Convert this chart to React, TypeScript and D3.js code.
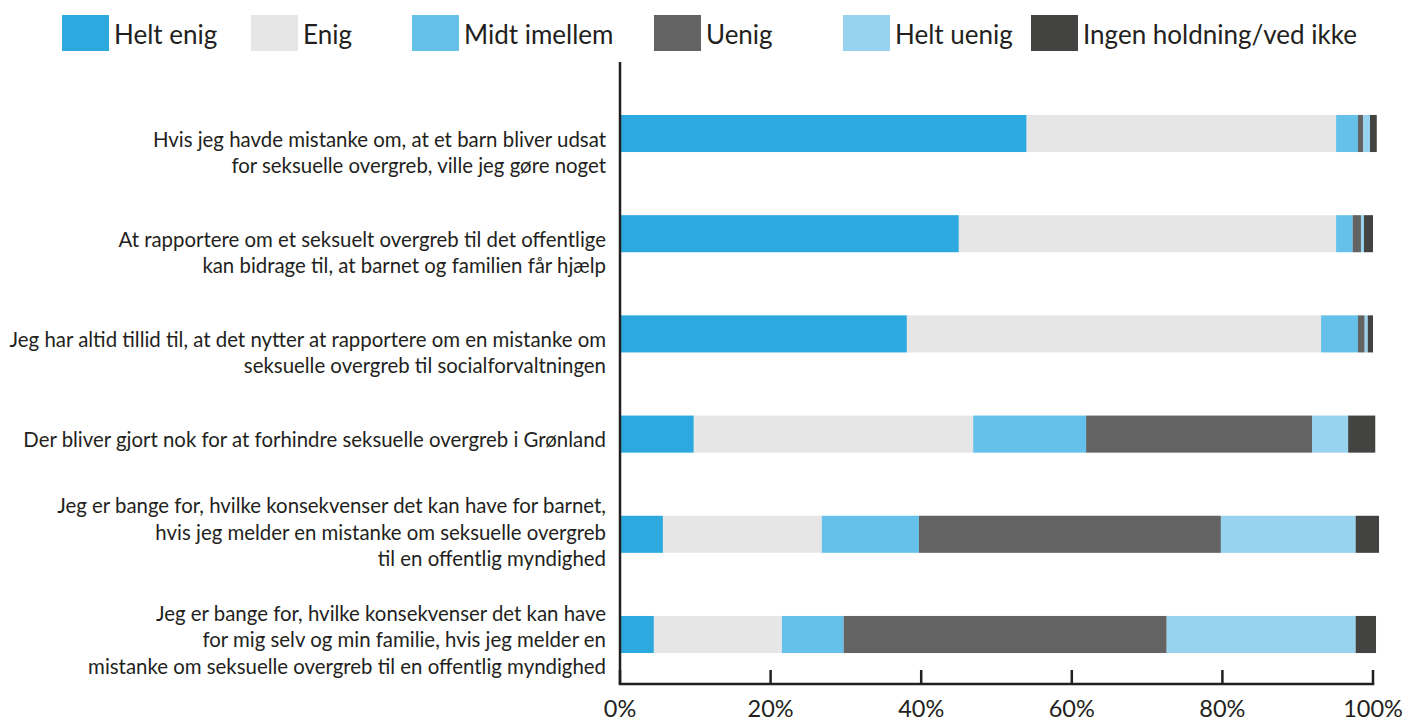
import * as d3 from 'd3';

// survey statements (line breaks as in the report)
const categories = [
  'Hvis jeg havde mistanke om, at et barn bliver udsat\nfor seksuelle overgreb, ville jeg gøre noget',
  'At rapportere om et seksuelt overgreb til det offentlige\nkan bidrage til, at barnet og familien får hjælp',
  'Jeg har altid tillid til, at det nytter at rapportere om en mistanke om\nseksuelle overgreb til socialforvaltningen',
  'Der bliver gjort nok for at forhindre seksuelle overgreb i Grønland',
  'Jeg er bange for, hvilke konsekvenser det kan have for barnet,\nhvis jeg melder en mistanke om seksuelle overgreb\ntil en offentlig myndighed',
  'Jeg er bange for, hvilke konsekvenser det kan have\nfor mig selv og min familie, hvis jeg melder en\nmistanke om seksuelle overgreb til en offentlig myndighed',
];

const seriesNames = ['Helt enig', 'Enig', 'Midt imellem', 'Uenig', 'Helt uenig', 'Ingen holdning/ved ikke'];

// percentages per statement
const heltEnig = [54.0, 45.0, 38.1, 9.8, 5.7, 4.5];
const enig = [41.1, 50.1, 55.0, 37.1, 21.1, 17.0];
const midtImellem = [2.9, 2.2, 4.9, 15.0, 12.9, 8.2];
const uenig = [0.7, 1.1, 0.9, 30.0, 40.1, 42.9];
const heltUenig = [0.9, 0.4, 0.4, 4.8, 17.9, 25.1];
const ingenHoldning = [0.9, 1.2, 0.7, 3.6, 3.1, 2.7];

const xTicks = [0, 20, 40, 60, 80, 100];

const colors = ['#2ea9df', '#e6e6e6', '#65c1ea', '#636363', '#97d3ef', '#434341'];
const legendX = [62, 251, 412, 654, 843, 1031];
const labelNudge = [0, 0, 0, 0, -7, 0];

const W = 1406;
const H = 722;
const ink = '#231f20';
const font = 'Lato, "Open Sans", sans-serif';

export default function App() {
  const allSeries = [heltEnig, enig, midtImellem, uenig, heltUenig, ingenHoldning];
  const table = categories.map((c, i) => {
    const row: any = { cat: c };
    seriesNames.forEach((s, j) => (row[s] = allSeries[j][i]));
    return row;
  });
  const stacked = d3.stack().keys(seriesNames)(table);

  const x = d3.scaleLinear().domain([0, 100]).range([620, 1373]);
  const y = d3
    .scaleBand()
    .domain(categories)
    .range([83.4, 684.6])
    .paddingInner(0.63)
    .paddingOuter(0.315);
  const axisY = 684;

  return (
    <svg width={W} height={H} style={{ position: 'absolute', left: 0, top: 0 }}>
      <rect width={W} height={H} fill="#fff" />
      {/* legend */}
      {seriesNames.map((s, i) => (
        <g key={s} transform={`translate(${legendX[i]},15)`}>
          <rect width={47} height={36} fill={colors[i]} />
          <text x={52} y={29} fontFamily={font} fontSize={26} fill={ink}>
            {s}
          </text>
        </g>
      ))}

      {/* bars */}
      {stacked.map((layer, j) => (
        <g key={layer.key} fill={colors[j]}>
          {layer.map((d: any, i) => (
            <rect
              key={i}
              x={x(d[0])}
              y={y(d.data.cat)}
              width={x(d[1]) - x(d[0])}
              height={y.bandwidth()}
            />
          ))}
        </g>
      ))}

      {/* category labels */}
      {categories.map((c, i) => {
        const lines = c.split('\n');
        const mid = (y(c) as number) + y.bandwidth() / 2;
        const first = lines.length < 3 ? mid + 13 : mid - 14;
        return (
          <text key={i} fontFamily={font} fontSize={20.4} fill={ink} textAnchor="end">
            {lines.map((l, k) => (
              <tspan key={k} x={606} y={first + labelNudge[i] + k * 26.5}>
                {l}
              </tspan>
            ))}
          </text>
        );
      })}

      {/* axes */}
      <line x1={620} x2={620} y1={62} y2={axisY} stroke={ink} strokeWidth={2.5} />
      <line x1={618.75} x2={x(100) + 1.25} y1={axisY} y2={axisY} stroke={ink} strokeWidth={2.5} />
      {xTicks.map((t) => (
        <g key={t}>
          <line x1={x(t)} x2={x(t)} y1={axisY} y2={axisY - 14} stroke={ink} strokeWidth={2.5} />
          <text x={x(t)} y={717} textAnchor="middle" fontFamily={font} fontSize={23.5} fill={ink}>
            {t}%
          </text>
        </g>
      ))}
    </svg>
  );
}
